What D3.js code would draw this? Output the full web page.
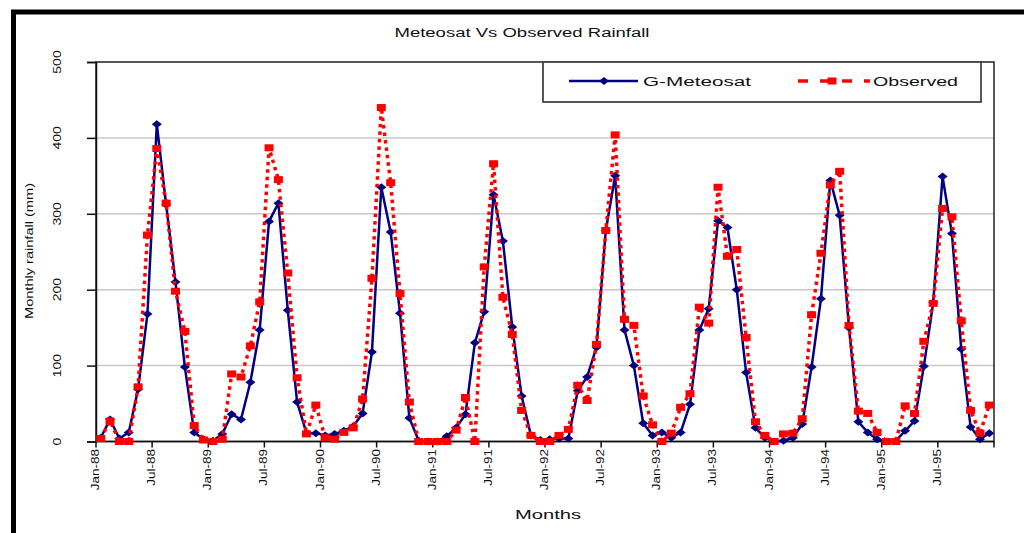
<!DOCTYPE html>
<html>
<head>
<meta charset="utf-8">
<script src="https://cdn.jsdelivr.net/npm/d3@7"></script>
<style>
  body { margin: 0; background: #fff; }
  text { font-family: "Liberation Sans", Arial, sans-serif; fill: #111; }
</style>
</head>
<body>
<div id="chart"></div>
<script>
// data, Jan-88 .. Dec-95
var years = ["88", "89", "90", "91", "92", "93", "94", "95"];
var monthNames = ["Jan", "Feb", "Mar", "Apr", "May", "Jun", "Jul", "Aug", "Sep", "Oct", "Nov", "Dec"];

var meteosat = [
  5, 29, 4, 12, 69, 168, 418, 312, 210, 98, 12, 3,
  1, 10, 36, 29, 78, 147, 290, 314, 173, 52, 11, 11,
  8, 10, 14, 20, 37, 118, 335, 276, 169, 31, 1, 0,
  0, 7, 18, 36, 130, 171, 325, 264, 151, 60, 8, 2,
  3, 4, 4, 67, 85, 124, 278, 350, 147, 100, 24, 8,
  12, 5, 12, 49, 147, 175, 291, 282, 200, 91, 18, 5,
  0, 1, 5, 23, 98, 188, 344, 298, 150, 26, 12, 3,
  0, 1, 14, 27, 99, 183, 349, 274, 122, 19, 3, 11
];

var observed = [
  4, 27, 0, 0, 72, 272, 386, 314, 198, 145, 21, 2,
  0, 3, 89, 85, 126, 184, 387, 345, 222, 84, 10, 48,
  5, 3, 12, 18, 56, 215, 440, 341, 195, 52, 0, 0,
  0, 0, 15, 58, 0, 230, 366, 190, 141, 41, 8, 0,
  0, 8, 16, 74, 54, 128, 278, 404, 161, 153, 60, 22,
  0, 11, 45, 63, 177, 156, 335, 244, 253, 137, 26, 8,
  0, 10, 11, 30, 167, 248, 338, 356, 153, 40, 37, 12,
  0, 0, 47, 37, 132, 182, 307, 296, 159, 41, 11, 48
];

var yTicks = [0, 100, 200, 300, 400, 500];
var gridValues = [100, 200, 300, 400];

var months = [];
years.forEach(function(y) {
  monthNames.forEach(function(m) { months.push(m + "-" + y); });
});

var width = 1024;
var height = 533;
var plotLeft = 96, plotRight = 994, plotTop = 62, plotBottom = 441.5;

var x = d3.scaleBand().domain(months).range([plotLeft, plotRight]).paddingInner(0).paddingOuter(0);
var y = d3.scaleLinear().domain([0, 500]).range([plotBottom, plotTop]);
var cx = function(i) { return x(months[i]) + x.bandwidth() / 2; };

var svg = d3.select("#chart").append("svg")
  .attr("width", width)
  .attr("height", height);

svg.append("rect").attr("width", width).attr("height", height).attr("fill", "#fff");

/* outer frame, only left and top show */
svg.append("rect")
  .attr("x", 13.5).attr("y", 12)
  .attr("width", 1200).attr("height", 800)
  .attr("fill", "none").attr("stroke", "#000").attr("stroke-width", 5);

/* gridlines */
svg.append("g").selectAll("line")
  .data(gridValues).enter()
  .append("line")
  .attr("x1", plotLeft).attr("x2", plotRight)
  .attr("y1", d => y(d)).attr("y2", d => y(d))
  .attr("stroke", "#c8c8c8").attr("stroke-width", 1.5);

/* plot border */
svg.append("rect")
  .attr("x", plotLeft).attr("y", plotTop)
  .attr("width", plotRight - plotLeft).attr("height", plotBottom - plotTop)
  .attr("fill", "none").attr("stroke", "#222").attr("stroke-width", 1.5);

/* y axis */
var yAxis = d3.axisLeft(y).tickValues(yTicks).tickSize(9).tickFormat("");
svg.append("g")
  .attr("transform", `translate(${plotLeft},0)`)
  .call(yAxis)
  .call(g => g.select(".domain").attr("stroke", "#111").attr("stroke-width", 1.5))
  .call(g => g.selectAll(".tick line").attr("stroke", "#111").attr("stroke-width", 1.5));

svg.append("g").selectAll("text")
  .data(yTicks).enter()
  .append("text")
  .attr("transform", d => `translate(61,${y(d)}) rotate(-90) scale(1.4,1)`)
  .attr("text-anchor", "middle")
  .style("font-size", "10px")
  .text(d => d);

/* x axis, tick every 6 months plus the end */
var tickIdx = months.map((m, i) => i).filter(i => i % 6 === 0);
var xTickPos = tickIdx.map(i => x(months[i])).concat([plotRight]);

svg.append("g").selectAll("line")
  .data(xTickPos).enter()
  .append("line")
  .attr("x1", d => d).attr("x2", d => d)
  .attr("y1", plotBottom).attr("y2", plotBottom + 6)
  .attr("stroke", "#111").attr("stroke-width", 1.5);

svg.append("line")
  .attr("x1", plotLeft).attr("x2", plotRight)
  .attr("y1", plotBottom).attr("y2", plotBottom)
  .attr("stroke", "#111").attr("stroke-width", 1.5);

svg.append("g").selectAll("text")
  .data(tickIdx).enter()
  .append("text")
  .attr("transform", i => `translate(${x(months[i]) + 3},449) rotate(-90) scale(1.35,1)`)
  .attr("text-anchor", "end")
  .style("font-size", "10px")
  .text(i => months[i]);

/* series */
var line = d3.line()
  .x((d, i) => cx(i))
  .y(d => y(d));

var diamond = "M-5,0L0,-4L5,0L0,4Z";

svg.append("path")
  .datum(meteosat)
  .attr("d", line)
  .attr("fill", "none")
  .attr("stroke", "#000080")
  .attr("stroke-width", 2.5)
  .attr("stroke-linejoin", "round");

svg.append("g").selectAll("path")
  .data(meteosat).enter()
  .append("path")
  .attr("d", diamond)
  .attr("transform", (d, i) => `translate(${cx(i)},${y(d)})`)
  .attr("fill", "#000080");

svg.append("path")
  .datum(observed)
  .attr("d", line)
  .attr("fill", "none")
  .attr("stroke", "#ff0000")
  .attr("stroke-width", 3.5)
  .attr("stroke-dasharray", "3.5,4");

svg.append("g").selectAll("rect")
  .data(observed).enter()
  .append("rect")
  .attr("x", (d, i) => cx(i) - 4.5)
  .attr("y", d => y(d) - 3.5)
  .attr("width", 9).attr("height", 7)
  .attr("fill", "#ff0000");

/* legend */
var legend = svg.append("g");
legend.append("rect")
  .attr("x", 543).attr("y", 62)
  .attr("width", 438).attr("height", 40)
  .attr("fill", "#fff").attr("stroke", "#444").attr("stroke-width", 1.8);

legend.append("line")
  .attr("x1", 569).attr("x2", 638).attr("y1", 81).attr("y2", 81)
  .attr("stroke", "#000080").attr("stroke-width", 2.5);
legend.append("path")
  .attr("d", diamond)
  .attr("transform", "translate(604,81)")
  .attr("fill", "#000080");
legend.append("text")
  .attr("x", 643).attr("y", 85.5)
  .attr("textLength", 108).attr("lengthAdjust", "spacingAndGlyphs")
  .style("font-size", "12.5px")
  .text("G-Meteosat");

legend.append("line")
  .attr("x1", 798).attr("x2", 870).attr("y1", 81).attr("y2", 81)
  .attr("stroke", "#ff0000").attr("stroke-width", 3.5)
  .attr("stroke-dasharray", "10,12");
legend.append("rect")
  .attr("x", 827.5).attr("y", 77.5)
  .attr("width", 9).attr("height", 7)
  .attr("fill", "#ff0000");
legend.append("text")
  .attr("x", 873).attr("y", 85.5)
  .attr("textLength", 85).attr("lengthAdjust", "spacingAndGlyphs")
  .style("font-size", "12.5px")
  .text("Observed");

/* titles */
svg.append("text")
  .attr("x", 522).attr("y", 37)
  .attr("text-anchor", "middle")
  .attr("textLength", 255).attr("lengthAdjust", "spacingAndGlyphs")
  .style("font-size", "12px")
  .text("Meteosat Vs Observed Rainfall");

svg.append("text")
  .attr("x", 548).attr("y", 519)
  .attr("text-anchor", "middle")
  .attr("textLength", 66).attr("lengthAdjust", "spacingAndGlyphs")
  .style("font-size", "13px")
  .text("Months");

svg.append("text")
  .attr("transform", "translate(33,251) rotate(-90)")
  .attr("text-anchor", "middle")
  .attr("textLength", 136).attr("lengthAdjust", "spacingAndGlyphs")
  .style("font-size", "11px")
  .text("Monthly rainfall (mm)");
</script>
</body>
</html>
